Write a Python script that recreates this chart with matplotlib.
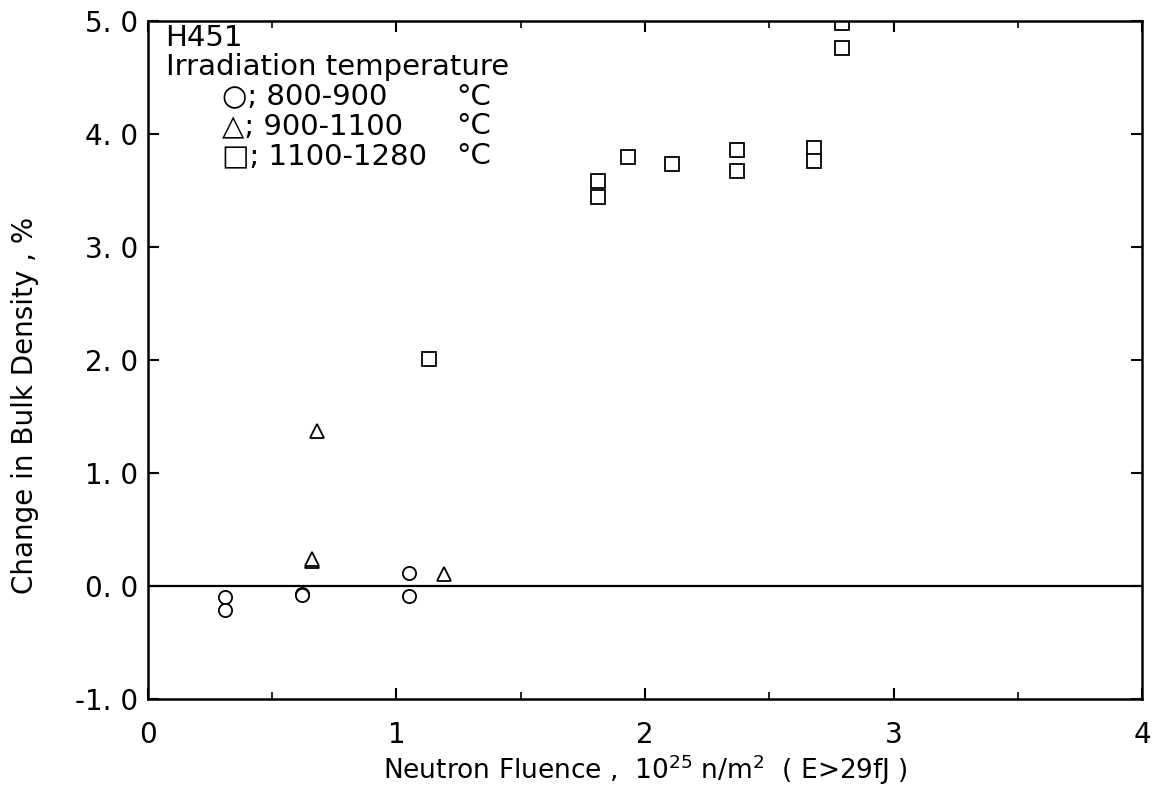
import matplotlib
matplotlib.use('Agg')
import matplotlib.pyplot as plt
from matplotlib.ticker import MultipleLocator

plt.rcParams['font.family'] = ['DejaVu Sans']

# 800-900 C
x_circ = [0.31, 0.31, 0.62, 0.62, 1.05, 1.05]
y_circ = [-0.10, -0.21, -0.07, -0.08, 0.12, -0.09]
# 900-1100 C
x_tri = [0.66, 0.66, 0.68, 1.19]
y_tri = [0.22, 0.24, 1.37, 0.11]
# 1100-1280 C
x_sq = [1.13, 1.81, 1.81, 1.93, 2.11, 2.37, 2.37, 2.68, 2.68, 2.79, 2.79]
y_sq = [2.01, 3.58, 3.44, 3.79, 3.73, 3.86, 3.67, 3.87, 3.76, 4.98, 4.76]

x_ticks = [0, 1, 2, 3, 4]
y_ticks = [-1, 0, 1, 2, 3, 4, 5]
y_labels = ['-1. 0', '0. 0', '1. 0', '2. 0', '3. 0', '4. 0', '5. 0']

fig = plt.figure(figsize=(11.54, 7.91), dpi=100)
ax = fig.add_axes([0.128, 0.116, 0.862, 0.858])

ax.axhline(0, color='black', lw=1.6)
mk = dict(linestyle='none', markerfacecolor='white', markeredgecolor='black', markeredgewidth=1.3)
ax.plot(x_circ, y_circ, marker='o', markersize=9.5, **mk)
ax.plot(x_tri, y_tri, marker='^', markersize=10.5, **mk)
ax.plot(x_sq, y_sq, marker='s', markersize=10, **mk)

ax.set_xlim(0, 4)
ax.set_ylim(-1, 5)
ax.set_xticks(x_ticks)
ax.set_xticklabels([str(t) for t in x_ticks])
ax.set_yticks(y_ticks)
ax.set_yticklabels(y_labels)
ax.xaxis.set_minor_locator(MultipleLocator(0.5))
ax.tick_params(direction='in', top=True, right=True, length=8, width=1.5, labelsize=20, pad=7)
ax.tick_params(axis='x', pad=16)
ax.tick_params(which='minor', direction='in', top=True, length=5, width=1.2)
for s in ax.spines.values():
    s.set_linewidth(1.8)

fig.text(645 / 1154, 1 - 770 / 791, 'Neutron Fluence ,  10$^{25}$ n/m$^{2}$  ( E>29fJ )',
         fontsize=19, ha='center', va='center')
fig.text(25 / 1154, 1 - 405 / 791, 'Change in Bulk Density , %', fontsize=20,
         rotation=90, ha='center', va='center')

tkw = dict(transform=ax.transAxes, fontsize=21, va='center', ha='left')
ax.text(0.018, 0.975, 'H451', **tkw)
ax.text(0.018, 0.932, 'Irradiation temperature', **tkw)
ax.text(0.075, 0.888, '○; 800-900', **tkw)
ax.text(0.075, 0.844, '△; 900-1100', **tkw)
ax.text(0.075, 0.800, '□; 1100-1280', **tkw)
for yy in [0.888, 0.844, 0.800]:
    ax.text(0.31, yy, '°C', **tkw)

fig.savefig('out.png', dpi=100)
